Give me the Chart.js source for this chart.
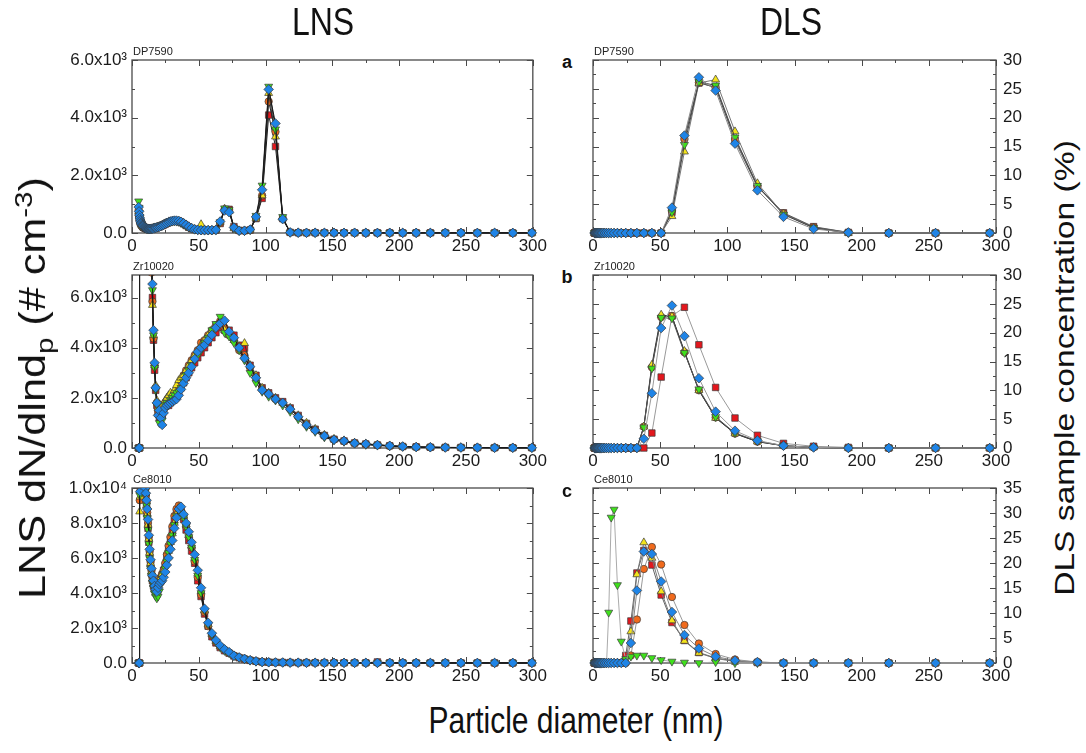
<!DOCTYPE html>
<html>
<head>
<meta charset="utf-8">
<script src="https://cdn.jsdelivr.net/npm/chart.js@4.4.1/dist/chart.umd.min.js"></script>
<style>
  html, body { margin: 0; padding: 0; background: #fff; }
  #fig { position: relative; width: 1086px; height: 753px; overflow: hidden; font-family: 'Liberation Sans', Arial, sans-serif; color: #111; }
  #fig canvas { position: absolute; }
  .lbl { position: absolute; white-space: nowrap; line-height: 1; }
  .title { font-size: 32px; transform: translate(-50%, -50%) scaleY(1.2); }
  .letter { font-size: 18px; font-weight: bold; transform: translate(-50%, -50%); }
  .xtitle { font-size: 30px; transform: translate(-50%, -50%) scaleY(1.2); }
  .ytitle { transform: translate(-50%, -50%) rotate(-90deg) scaleX(1.2); }
  sub, sup { font-size: 0.68em; line-height: 0; }
</style>
</head>
<body>
<div id="fig">
  <canvas id="lnsA" width="500" height="215" style="left:50px;top:40px"></canvas>
  <canvas id="lnsB" width="500" height="215" style="left:50px;top:255px"></canvas>
  <canvas id="lnsC" width="500" height="217" style="left:50px;top:468px"></canvas>
  <canvas id="dlsA" width="457" height="215" style="left:583px;top:40px"></canvas>
  <canvas id="dlsB" width="457" height="215" style="left:583px;top:255px"></canvas>
  <canvas id="dlsC" width="457" height="217" style="left:583px;top:468px"></canvas>

  <div class="lbl title" style="left:323px;top:22px">LNS</div>
  <div class="lbl title" style="left:791px;top:22px">DLS</div>
  <div class="lbl letter" style="left:567px;top:62px">a</div>
  <div class="lbl letter" style="left:567px;top:277px">b</div>
  <div class="lbl letter" style="left:567px;top:491px">c</div>
  <div class="lbl xtitle" style="left:576px;top:721px">Particle diameter (nm)</div>
  <div class="lbl ytitle" style="left:33px;top:388px;font-size:36px">LNS dN/dlnd<sub>p</sub> (# cm<sup>-3</sup>)</div>
  <div class="lbl ytitle" style="left:1065px;top:368px;font-size:28px">DLS sample concentration (%)</div>
</div>

<script>
// particle diameter bins (nm)
var lnsDiam = [5.0, 5.3, 5.5, 5.8, 6.1, 6.4, 6.7, 7.0, 7.4, 7.8,
  8.1, 8.6, 9.0, 9.4, 9.9, 10.4, 10.9, 11.4, 12.0, 12.6,
  13.2, 13.9, 14.6, 15.3, 16.1, 16.9, 17.7, 18.6, 19.5, 20.5,
  21.5, 22.6, 23.7, 24.9, 26.1, 27.4, 28.8, 30.2, 31.7, 33.3,
  35.0, 36.7, 38.6, 40.5, 42.5, 44.6, 46.9, 49.2, 51.7, 54.3,
  57.0, 59.8, 62.8, 66.0, 69.3, 72.7, 76.3, 80.2, 84.2, 88.4,
  92.8, 97.4, 102.3, 107.4, 112.8, 118.4, 124.4, 130.6, 137.1, 144.0,
  151.2, 158.7, 166.6, 175.0, 183.7, 192.9, 202.6, 212.7, 223.3, 234.5,
  246.2, 258.5, 271.4, 285.0, 299.3];
var dlsDiam = [1.12, 1.29, 1.5, 1.74, 2.01, 2.33, 2.7, 3.12, 3.62, 4.19,
  4.85, 5.62, 6.5, 7.53, 8.72, 10.1, 11.7, 13.54, 15.69, 18.17,
  21.04, 24.36, 28.21, 32.67, 37.84, 43.82, 50.75, 58.77, 68.06, 78.82,
  91.28, 105.7, 122.4, 141.8, 164.2, 190.1, 220.2, 255.0, 295.3];

// tick values
var xTicks = [0, 50, 100, 150, 200, 250, 300];
var lnsTicks6k = [0, 2000, 4000, 6000];
var lnsTicks10k = [0, 2000, 4000, 6000, 8000, 10000];
var dlsTicks30 = [0, 5, 10, 15, 20, 25, 30];
var dlsTicks35 = [0, 5, 10, 15, 20, 25, 30, 35];
var sampleNames = ['DP7590', 'Zr10020', 'Ce8010'];

// LNS dN/dlnd_p (# cm^-3) -- DP7590
var lnsA_red = [650,620,560,480,420,370,330,300,270,250, 220,200,190,180,170,160,150,140,140,140,
  140,140,150,150,160,170,180,190,200,220, 240,260,280,310,340,370,390,410,410,410,
  400,370,320,260,200,150,120,100,90,90, 90,90,100,330,800,820,220,90,80,100,
  500,1200,4090,3000,500,22,9,7,8,6, 5,8,6,4,7,5,3,6,5,4, 6,3,5,4,6];
var lnsA_orange = [800,700,600,500,440,390,350,310,280,260, 230,210,200,190,180,170,160,150,150,150,
  150,150,150,160,170,180,190,200,210,230, 250,270,300,330,360,380,400,410,420,420,
  410,380,330,270,210,160,130,110,100,100, 100,100,110,350,820,800,180,80,80,110,
  520,1300,4560,3510,500,20,10,8,6,9, 6,5,8,4,6,5,7,4,9,5, 4,6,5,3,5];
var lnsA_yellow = [750,700,600,500,430,380,340,300,270,250, 230,210,190,180,170,160,150,140,140,140,
  140,140,150,160,170,180,190,200,210,230, 250,270,300,330,360,380,400,410,420,410,
  400,370,320,270,210,160,130,110,300,120, 100,100,110,380,840,760,160,80,80,110,
  500,1300,4850,3340,520,18,10,6,8,5, 7,4,6,5,8,3,6,4,7,5, 3,6,4,5,4];
var lnsA_green = [1100,880,700,560,470,410,360,320,280,250, 230,210,190,180,170,160,150,150,140,140,
  140,150,150,160,170,180,190,200,220,240, 260,280,300,320,350,370,390,400,410,400,
  390,360,310,250,200,160,120,100,90,90, 90,90,100,380,860,800,170,70,70,100,
  600,1650,5080,3600,560,15,8,10,6,8, 5,7,4,6,8,4,6,5,3,6, 4,5,3,6,4];
var lnsA_blue = [900,750,620,520,450,400,350,320,290,260, 240,220,200,190,180,170,160,150,150,140,
  140,140,150,150,160,170,180,190,200,220, 240,260,290,320,350,380,400,420,430,430,
  420,390,340,280,220,170,130,110,100,100, 100,100,110,400,780,720,190,80,80,120,
  560,1500,4980,3800,480,20,12,8,10,6, 8,5,9,6,4,8,5,6,4,7, 5,4,6,3,5];

// LNS -- Zr10020 (values below ~15 nm are off scale)
var lnsB_red = [0,0,0,41000,46000,48000,50000,50000,48000,46000, 43000,40000,36000,32000,28000,24000,20000,17000,14000,12000,
  10000,8500,7500,6000,4300,3100,2300,1700,1400,1200, 1400,1300,1500,1700,1800,1700,1800,1900,2000,2100,
  2200,2400,2600,2800,3000,3200,3400,3600,3800,4000, 4200,4400,4600,4800,4700,4700,4500,4100,3980,3300,
  2900,2400,2200,2000,1850,1600,1300,980,750,500, 350,280,200,160,120,90,60,45,30,25, 20,15,12,10,10];
var lnsB_orange = [0,0,0,40000,45000,48000,50000,49000,47000,45000, 42000,39000,35000,31000,27000,23000,19000,16000,13000,11000,
  9500,8000,7000,5840,4370,3300,2400,1800,1500,1300, 1500,1300,1600,1800,1900,2000,2000,2100,2200,2300,
  2500,2700,2900,3100,3300,3500,3700,3900,4200,4300, 4500,4700,4900,5060,4800,4500,4300,3900,3700,3200,
  2800,2350,2150,1950,1800,1550,1250,950,720,500, 340,270,200,150,120,80,60,40,30,20, 15,12,10,10,8];
var lnsB_yellow = [0,0,0,38000,44000,47000,49000,49000,47000,45000, 42000,39000,35000,31000,27000,23000,19500,16500,13500,11500,
  10000,8700,7600,5700,4500,3300,2500,1900,1600,1400, 1700,1500,1800,1900,2000,2100,2200,2150,2300,2500,
  2700,2800,2900,3100,3300,3500,3700,3900,4100,4300, 4500,4700,4850,5000,4700,4500,4300,4050,4180,3300,
  2900,2400,2200,2000,1800,1600,1300,1000,760,520, 360,300,210,170,130,90,60,40,30,20, 20,15,12,10,10];
var lnsB_green = [0,0,0,42000,46000,49000,51000,50000,48000,45000, 42000,39000,35000,31000,27000,23000,19000,16000,13500,11500,
  10000,8800,7800,6300,4500,3200,2300,1700,1250,1000, 1350,1100,1500,1700,1800,1700,1900,2000,2100,2200,
  2250,2400,2650,2900,3100,3300,3500,3700,3900,4200, 4400,4700,4950,5240,4600,4450,4200,3900,3500,3000,
  2600,2250,2050,1900,1700,1450,1150,850,650,430, 310,250,180,130,100,70,50,30,25,20, 15,12,10,8,8];
var lnsB_blue = [0,0,0,40000,45000,48000,50000,50000,48000,46000, 43000,40000,36000,32000,28000,24000,20000,17000,14000,12000,
  10500,9000,8000,6540,4700,3400,2400,1800,1300,1500, 1200,920,1400,1600,1700,1750,1800,1850,1900,1950,
  2100,2340,2580,2800,3000,3240,3550,3840,4000,4110, 4300,4510,4800,4970,5080,4640,4400,4000,3580,3250,
  2800,2310,2150,1950,1800,1550,1250,920,700,480, 330,280,190,160,120,90,60,40,30,20, 20,15,10,10,10];

// LNS -- Ce8010
var lnsC_red = [0,0,0,10200,10600,10700,10800,10700,10600,10500, 10400,10300,10200,10100,9900,9500,9000,8400,7700,6900,
  6200,5600,5100,4700,4400,4200,4100,4200,4400,4600, 4800,5000,5300,5600,6100,6600,7100,7600,8100,8600,
  8800,8700,8200,7600,7000,6400,5700,4700,3800,2800, 2100,1500,1150,880,700,560,400,300,220,150,
  100,60,45,35,30,25,20,18,15,12, 12,10,10,10,60,8,8,6,6,6, 5,5,5,4,4];
var lnsC_orange = [0,0,0,9300,9800,10200,10400,10500,10500,10400, 10300,10200,10100,10000,9900,9600,9200,8600,8000,7200,
  6400,5800,5300,4900,4600,4400,4300,4300,4500,4700, 4900,5100,5300,5700,6200,6700,7200,7800,8400,8800,
  9000,8700,8300,7800,7200,6600,5800,4900,3900,2900, 2100,1600,1200,950,760,600,430,330,250,170,
  110,70,45,35,30,25,20,18,15,12, 12,10,10,8,8,7,7,6,6,5, 5,5,4,4,4];
var lnsC_yellow = [0,0,0,8650,9500,10200,10500,10600,10500,10400, 10300,10200,10000,9900,9700,9400,9000,8500,7900,7100,
  6300,5700,5200,4800,4500,4200,4000,4100,4400,4700, 4900,5100,5300,5600,6000,6400,6900,7400,8000,8500,
  8900,8800,8400,7900,7300,6700,6000,5100,4100,3000, 2200,1650,1250,950,750,580,420,310,230,150,
  90,60,40,30,25,20,18,15,12,10, 10,10,8,8,7,6,6,5,5,5, 4,4,4,3,3];
var lnsC_green = [0,0,0,9600,10300,10600,10700,10600,10500,10400, 10300,10200,10100,9900,9800,9600,9000,8300,7600,6800,
  6000,5400,5000,4600,4300,4000,3800,3700,3800,4100, 4500,4800,5100,5400,5800,6300,6800,7300,7900,8400,
  8700,8600,8300,7800,7200,6600,5900,5000,4000,3000, 2200,1600,1200,900,700,560,400,300,220,140,
  80,50,40,30,25,20,15,15,12,10, 10,8,8,6,6,5,5,5,4,4, 4,4,3,3,3];
var lnsC_blue = [0,0,0,10500,9800,10200,10400,10500,10600,10500, 10400,10300,10200,10100,10000,9700,9300,8800,8200,7300,
  6500,5900,5400,5000,4700,4400,4200,4070,4300,4500, 4600,4700,4900,5200,5600,6000,6500,7000,7700,8300,
  8800,8930,8500,8000,7500,6900,6200,5300,4300,3100, 2300,1700,1300,1000,780,620,420,320,240,160,
  100,60,40,30,30,20,20,15,15,12, 12,10,10,10,8,8,8,6,6,6, 5,5,5,5,5];

// DLS sample concentration (%) -- DP7590
var dlsA_red    = [0,0,0,0,0,0,0,0,0,0, 0,0,0,0,0,0,0,0,0,0, 0,0,0,0,0,0,0,3.6,16.5,26.0, 25.3,16.0,8.0,3.5,1.1,0.1,0,0,0];
var dlsA_orange = [0,0,0,0,0,0,0,0,0,0, 0,0,0,0,0,0,0,0,0,0, 0,0,0,0,0,0,0,3.8,16.3,26.1, 25.2,16.3,8.1,3.4,1.0,0.1,0,0,0];
var dlsA_yellow = [0,0,0,0,0,0,0,0,0,0, 0,0,0,0,0,0,0,0,0,0, 0,0,0,0,0,0,0,2.9,14.1,26.0, 26.6,17.6,8.6,3.3,0.9,0,0,0,0];
var dlsA_green  = [0,0,0,0,0,0,0,0,0,0, 0,0,0,0,0,0,0,0,0,0, 0,0,0,0,0,0,0,3.6,15.3,26.2, 25.6,16.6,8.2,3.2,0.9,0,0,0,0];
var dlsA_blue   = [0,0,0,0,0,0,0,0,0,0, 0,0,0,0,0,0,0,0,0,0, 0,0,0,0,0,0,0,4.4,16.9,27.0, 24.7,15.5,7.4,2.8,0.7,0.1,0,0,0];

// DLS -- Zr10020
var dlsB_red    = [0,0,0,0,0,0,0,0,0,0, 0,0,0,0,0,0,0,0,0,0, 0,0,0,0,0,2.6,12.3,22.9,24.4,17.9, 10.5,5.2,2.2,0.8,0.3,0.1,0,0,0];
var dlsB_orange = [0,0,0,0,0,0,0,0,0,0, 0,0,0,0,0,0,0,0,0,0, 0,0,0,0,3.7,14.0,22.7,22.9,16.6,10.0, 5.3,2.5,1.1,0.4,0.1,0,0,0,0];
var dlsB_yellow = [0,0,0,0,0,0,0,0,0,0, 0,0,0,0,0,0,0,0,0,0, 0,0,0,0,3.7,14.4,23.1,22.8,16.8,10.0, 5.2,2.5,1.1,0.4,0.1,0,0,0,0];
var dlsB_green  = [0,0,0,0,0,0,0,0,0,0, 0,0,0,0,0,0,0,0,0,0, 0,0,0,0,3.6,13.8,22.6,22.5,16.5,10.2, 5.4,2.6,1.2,0.4,0.1,0,0,0,0];
var dlsB_blue   = [0,0,0,0,0,0,0,0,0,0, 0,0,0,0,0,0,0,0,0,0, 0,0,0,0,1.6,9.5,20.8,24.7,19.4,12.1, 6.3,3.0,1.3,0.4,0.1,0,0,0,0];

// DLS -- Ce8010
var dlsC_red    = [0,0,0,0,0,0,0,0,0,0, 0,0,0,0,0,0,0,0,0,0, 0,1.5,8.4,18.0,22.5,19.6,13.6,8.1,4.5,2.1, 1.0,0.4,0.1,0,0,0,0,0,0];
var dlsC_orange = [0,0,0,0,0,0,0,0,0,0, 0,0,0,0,0,0,0,0,0,0, 0,0,1.5,8.7,18.8,23.2,19.7,13.2,7.6,3.9, 1.8,0.7,0.2,0,0,0,0,0,0];
var dlsC_yellow = [0,0,0,0,0,0,0,0,0,0, 0,0,0,0,0,0,0,0,0,0, 0,0.3,6.3,17.7,24.1,21.0,14.3,8.5,4.4,2.0, 0.9,0.3,0.1,0,0,0,0,0,0];
var dlsC_green  = [0,0,0,0,0,0,0,0,0,0, 0,0,0,0,0,0,10.1,29.1,30.7,15.6, 4.3,0.8,1.3,1.5,1.5,1.0,0.6,0.3,0.1,0, 0.2,0,0,0,0,0,0,0,0];
var dlsC_blue   = [0,0,0,0,0,0,0,0,0,0, 0,0,0,0,0,0,0,0,0,0, 0,0,4.0,14.5,22.3,21.8,16.3,10.2,5.6,2.9, 1.3,0.5,0.2,0,0,0,0,0,0];

var FONT = "'Liberation Sans', Arial, sans-serif";
Chart.defaults.font.family = FONT;

var markers = {
  red:    { color: '#e3171d', style: 'rect',     radius: 4.6, rotation: 0,   order: 4 },
  orange: { color: '#f06a1c', style: 'circle',   radius: 3.7, rotation: 0,   order: 3 },
  yellow: { color: '#f3e31b', style: 'triangle', radius: 4.6, rotation: 0,   order: 2 },
  green:  { color: '#3fe01c', style: 'triangle', radius: 4.6, rotation: 180, order: 1 },
  blue:   { color: '#1f84e6', style: 'rectRot',  radius: 4.8, rotation: 0,   order: 0 }
};
var seriesKeys = ['blue', 'green', 'yellow', 'orange', 'red'];

var supDigits = { 3: '\u00b3', 4: '\u2074' };
function sciLabel(v) {
  if (v === 0) return '0.0';
  var e = Math.floor(Math.log10(v) + 1e-9);
  return (v / Math.pow(10, e)).toFixed(1) + 'x10' + supDigits[e];
}

function toTicks(values) {
  return values.map(function(v) { return { value: v }; });
}

// frame, inward ticks on all four sides and sample name
var frameTicks = {
  id: 'frameTicks',
  beforeDatasetsDraw: function(chart) {
    var o = chart.options.plugins.frameTicks;
    var a = chart.chartArea, ctx = chart.ctx;
    var xs = chart.scales.x, ys = chart.scales.y;
    ctx.save();
    ctx.strokeStyle = '#4a4a4a';
    ctx.lineWidth = 1.3;
    ctx.strokeRect(a.left, a.top, a.right - a.left, a.bottom - a.top);
    ctx.lineWidth = 1;
    ctx.beginPath();
    var v, p, len;
    for (v = xs.min; v <= xs.max + 1e-6; v += o.xMinor) {
      p = Math.round(xs.getPixelForValue(v)) + 0.5;
      len = Math.abs(v / o.xMajor - Math.round(v / o.xMajor)) < 1e-6 ? 6 : 3;
      ctx.moveTo(p, a.bottom); ctx.lineTo(p, a.bottom - len);
      ctx.moveTo(p, a.top); ctx.lineTo(p, a.top + len);
    }
    for (v = ys.min; v <= ys.max + 1e-6; v += o.yMinor) {
      p = Math.round(ys.getPixelForValue(v)) + 0.5;
      len = Math.abs(v / o.yMajor - Math.round(v / o.yMajor)) < 1e-6 ? 6 : 3;
      ctx.moveTo(a.left, p); ctx.lineTo(a.left + len, p);
      ctx.moveTo(a.right, p); ctx.lineTo(a.right - len, p);
    }
    ctx.stroke();
    ctx.fillStyle = '#222';
    ctx.font = '11px ' + FONT;
    ctx.textBaseline = 'alphabetic';
    ctx.textAlign = 'left';
    ctx.fillText(o.name, a.left + 1, a.top - 5);
    ctx.restore();
  }
};

function buildSets(xs, sets, lineColors, clip) {
  return seriesKeys.map(function(k) {
    var m = markers[k];
    return {
      label: k,
      data: xs.map(function(x, i) { return { x: x, y: sets[k][i] }; }),
      borderColor: lineColors[k],
      borderWidth: 1,
      pointStyle: m.style,
      pointRadius: m.radius,
      pointRotation: m.rotation,
      pointBackgroundColor: m.color,
      pointBorderColor: '#3a3a3a',
      pointBorderWidth: 0.7,
      order: m.order,
      tension: 0,
      clip: clip
    };
  });
}

function panel(canvasId, cfg) {
  var ctx = document.getElementById(canvasId);
  if (!ctx) return;
  var left = cfg.side === 'left';
  new Chart(ctx, {
    type: 'line',
    data: { datasets: cfg.datasets },
    options: {
      responsive: false,
      animation: false,
      events: [],
      layout: { padding: left ? { left: 0, right: 15, top: 20, bottom: 0 } : { left: 10, right: 0, top: 20, bottom: 0 } },
      plugins: {
        legend: { display: false },
        tooltip: { enabled: false },
        frameTicks: { name: cfg.name, xMinor: 25, xMajor: 50, yMinor: cfg.yMinor, yMajor: cfg.yMajor }
      },
      scales: {
        x: {
          type: 'linear', min: 0, max: 300, position: 'bottom',
          grid: { display: false, drawTicks: false },
          border: { display: false },
          afterBuildTicks: function(s) { s.ticks = toTicks(xTicks); },
          ticks: { padding: 3, color: '#1a1a1a', font: { size: 17 }, maxRotation: 0, autoSkip: false },
          afterFit: function(s) { s.height = 22; }
        },
        y: {
          type: 'linear', min: 0, max: cfg.yMax, position: cfg.side,
          grid: { display: false, drawTicks: false },
          border: { display: false },
          afterBuildTicks: function(s) { s.ticks = toTicks(cfg.yTicks); },
          ticks: {
            padding: left ? 5 : 7, autoSkip: false,
            color: '#1a1a1a', font: { size: 17 },
            callback: left ? sciLabel : function(v) { return v; }
          },
          afterFit: function(s) { s.width = left ? 82 : 44; }
        }
      }
    },
    plugins: [frameTicks]
  });
}

var lnsLines = { red: '#1a1a1a', orange: '#1a1a1a', yellow: '#333', green: '#1a1a1a', blue: '#1a1a1a' };
var lnsClip = { left: 8, top: 0, right: 8, bottom: 8 };

panel('lnsA', { side: 'left', name: sampleNames[0], yMax: 6000, yTicks: lnsTicks6k, yMajor: 2000, yMinor: 1000,
  datasets: buildSets(lnsDiam, { red: lnsA_red, orange: lnsA_orange, yellow: lnsA_yellow, green: lnsA_green, blue: lnsA_blue }, lnsLines, lnsClip) });
panel('lnsB', { side: 'left', name: sampleNames[1], yMax: 6900, yTicks: lnsTicks6k, yMajor: 2000, yMinor: 1000,
  datasets: buildSets(lnsDiam, { red: lnsB_red, orange: lnsB_orange, yellow: lnsB_yellow, green: lnsB_green, blue: lnsB_blue }, lnsLines, lnsClip) });
panel('lnsC', { side: 'left', name: sampleNames[2], yMax: 10000, yTicks: lnsTicks10k, yMajor: 2000, yMinor: 1000,
  datasets: buildSets(lnsDiam, { red: lnsC_red, orange: lnsC_orange, yellow: lnsC_yellow, green: lnsC_green, blue: lnsC_blue }, lnsLines, lnsClip) });

panel('dlsA', { side: 'right', name: sampleNames[0], yMax: 30, yTicks: dlsTicks30, yMajor: 5, yMinor: 2.5,
  datasets: buildSets(dlsDiam, { red: dlsA_red, orange: dlsA_orange, yellow: dlsA_yellow, green: dlsA_green, blue: dlsA_blue },
    { red: '#666', orange: '#555', yellow: '#777', green: '#444', blue: '#888' }, 8) });
panel('dlsB', { side: 'right', name: sampleNames[1], yMax: 30, yTicks: dlsTicks30, yMajor: 5, yMinor: 2.5,
  datasets: buildSets(dlsDiam, { red: dlsB_red, orange: dlsB_orange, yellow: dlsB_yellow, green: dlsB_green, blue: dlsB_blue },
    { red: '#999', orange: '#444', yellow: '#333', green: '#555', blue: '#9a9a9a' }, 8) });
panel('dlsC', { side: 'right', name: sampleNames[2], yMax: 35, yTicks: dlsTicks35, yMajor: 5, yMinor: 2.5,
  datasets: buildSets(dlsDiam, { red: dlsC_red, orange: dlsC_orange, yellow: dlsC_yellow, green: dlsC_green, blue: dlsC_blue },
    { red: '#666', orange: '#999', yellow: '#777', green: '#aaa', blue: '#888' }, 8) });
</script>
</body>
</html>
